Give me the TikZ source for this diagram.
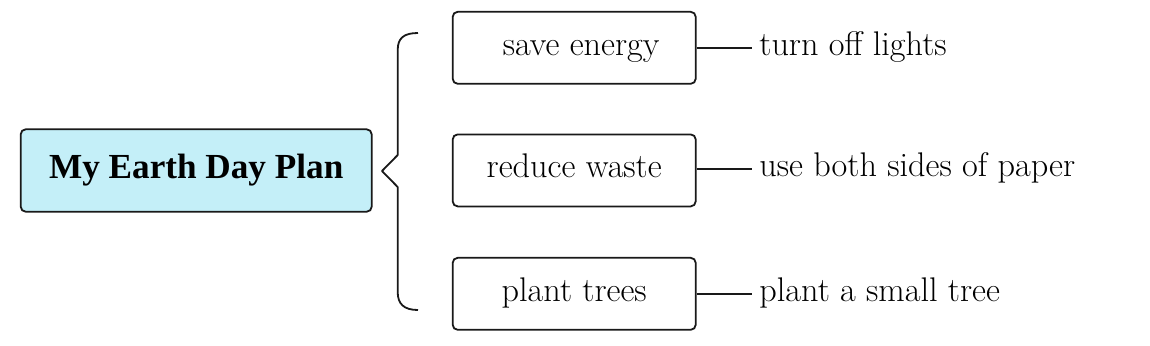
\documentclass[tikz,border=0pt]{standalone}
\usepackage{fontspec}
\newfontfamily\titlefont{Liberation Serif}
\definecolor{cyanfill}{RGB}{196,239,248}
\definecolor{inkline}{RGB}{25,25,25}
\tikzset{
  mainbox/.style={draw=inkline, fill=cyanfill, rounded corners=2.5pt, line width=0.9pt,
    minimum width=175.5pt, minimum height=41.2pt, inner sep=0pt,
    font=\titlefont\bfseries\fontsize{17.6}{21}\selectfont},
  subbox/.style={draw=inkline, rounded corners=2.5pt, line width=0.9pt,
    minimum width=121.5pt, minimum height=36pt, inner sep=0pt,
    text height=7.37pt, text depth=0pt,
    font=\fontsize{17.1}{20}\selectfont},
  leaf/.style={anchor=base west, inner xsep=3.5pt, inner ysep=0pt, yshift=-3.7pt,
    font=\fontsize{17.1}{20}\selectfont},
  link/.style={line width=0.9pt, draw=inkline},
  bracestroke/.style={line width=0.9pt, draw=inkline, line join=round}
}
\begin{document}
\begin{tikzpicture}[x=0.5pt, y=-0.5pt]
\useasboundingbox (0,0) rectangle (1150,345);
\node[mainbox] (main) at (196.2,170.5) {My Earth Day Plan};
\node[subbox] (s1) at (574.2,47.8) {\hspace*{7pt}save energy};
\node[subbox] (s2) at (574.2,170.4) {reduce waste};
\node[subbox] (s3) at (574.2,293.8) {plant trees};
\coordinate (e1) at (752,47.7);
\coordinate (e2) at (752,168.6);
\coordinate (e3) at (752,294.3);
\node[leaf] (l1) at (e1) {turn off lights};
\node[leaf] (l2) at (e2) {use both sides of paper};
\node[leaf] (l3) at (e3) {plant a small tree};
\draw[link] (s1.east |- e1) -- (e1);
\draw[link] (s2.east |- e2) -- (e2);
\draw[link] (s3.east |- e3) -- (e3);
% brace
\coordinate (tip) at (382,171);
\draw[bracestroke] (418,33) .. controls (404,33) and (397.7,38) .. (397.7,50)
  -- (397.7,155) -- (tip) -- (397.7,187) -- (397.7,292)
  .. controls (397.7,304) and (404,310) .. (418,310);
\end{tikzpicture}
\end{document}
